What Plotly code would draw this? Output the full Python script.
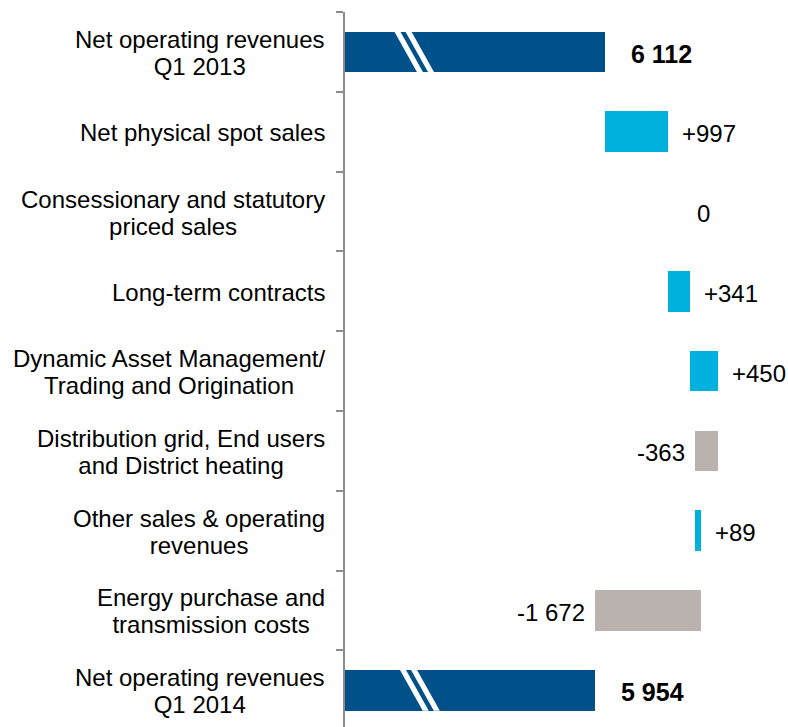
import plotly.graph_objects as go

# waterfall: Q1 2013 -> Q1 2014 net operating revenues
categories = [
    "Net operating revenues<br>Q1 2013",
    "Net physical spot sales",
    "Consessionary and statutory<br>priced sales",
    "Long-term contracts",
    "Dynamic Asset Management/<br>Trading and Origination",
    "Distribution grid, End users<br>and District heating",
    "Other sales & operating<br>revenues",
    "Energy purchase and<br>transmission costs",
    "Net operating revenues<br>Q1 2014",
]
start_total = 6112
deltas = [997, 0, 341, 450, -363, 89, -1672]
end_total = 5954

# style
DARK = "#005189"
UP = "#00B1DD"
DOWN = "#BAB2AF"
AXIS = "#8C8C8C"
FONT = "Liberation Sans, Arial, sans-serif"
X_MIN, X_MAX = 2000, 9008
BAR_W = 0.51
BREAK_X = 2780    # where the axis break stripes sit on the total bars
STRIPE_W = 95     # stripe width, in axis units
STRIPE_GAP = 175
STRIPE_SLANT = 360

n = len(categories)
idx = list(range(n))

bases, lengths, colors, labels = [0], [start_total], [DARK], [f"{start_total:,}".replace(",", " ")]
running = start_total
for d in deltas:
    bases.append(running)
    lengths.append(d)
    colors.append(UP if d >= 0 else DOWN)
    if d == 0:
        labels.append("0")
    else:
        labels.append(("+" if d > 0 else "-") + f"{abs(d):,}".replace(",", " "))
    running += d
bases.append(0)
lengths.append(end_total)
colors.append(DARK)
labels.append(f"{end_total:,}".replace(",", " "))

fig = go.Figure()
fig.add_trace(go.Bar(
    y=idx, x=lengths, base=bases, orientation="h",
    marker=dict(color=colors, line=dict(width=0)),
    width=BAR_W, hoverinfo="skip",
))

annotations = []
# category labels; the annotation font size sets the (tight) line spacing,
# the spans carry the real text size
for i, c in enumerate(categories):
    text = "<br>".join(f"<span style='font-size:24px'>{s}</span>" for s in c.split("<br>"))
    annotations.append(dict(
        xref="paper", yref="y", x=0, y=i, text=text, showarrow=False,
        xanchor="right", yanchor="middle", align="center", xshift=-18, yshift=-1,
        font=dict(family=FONT, size=20.8, color="#000000"),
    ))

# value labels
for i in idx:
    end = bases[i] + lengths[i]
    total = i in (0, n - 1)
    if total:
        xa, xs = "left", 24
    elif lengths[i] > 0:
        xa, xs = "left", 12
    elif lengths[i] < 0:
        xa, xs = "right", -8
    else:
        xa, xs = "left", 27
    annotations.append(dict(
        x=end, y=i, text=f"<b>{labels[i]}</b>" if total else labels[i],
        showarrow=False, xanchor=xa, yanchor="middle", xshift=xs, yshift=-2,
        font=dict(family=FONT, size=25 if total else 24, color="#000000"),
    ))

# axis-break stripes on the two total bars
shapes = []
for i in (0, n - 1):
    top, bot = i - BAR_W / 2, i + BAR_W / 2
    for k in range(2):
        x0 = BREAK_X + k * STRIPE_GAP + (90 if i == n - 1 else 0)
        path = (f"M {x0},{top} L {x0 + STRIPE_W},{top} "
                f"L {x0 + STRIPE_W + STRIPE_SLANT},{bot} L {x0 + STRIPE_SLANT},{bot} Z")
        shapes.append(dict(type="path", path=path, xref="x", yref="y",
                           fillcolor="white", line=dict(width=0), layer="above"))

fig.update_layout(
    width=788, height=727,
    margin=dict(l=345, r=0, t=12, b=0),
    paper_bgcolor="white", plot_bgcolor="white",
    showlegend=False, bargap=0,
    annotations=annotations, shapes=shapes,
)
fig.update_xaxes(range=[X_MIN, X_MAX], visible=False, showgrid=False)
fig.update_yaxes(
    range=[8.46, -0.5], showgrid=False, zeroline=False,
    showline=True, linecolor=AXIS, linewidth=2,
    tickmode="array", tickvals=[i - 0.5 for i in range(n + 1)],
    ticks="outside", ticklen=7, tickwidth=2, tickcolor=AXIS,
    showticklabels=False,
)

# drop the browser's default body margin so the chart sits at the page corner
fig.write_html(
    "out.html",
    config={"displayModeBar": False},
    post_script="document.body.style.margin='0';document.body.style.overflow='hidden';",
)
